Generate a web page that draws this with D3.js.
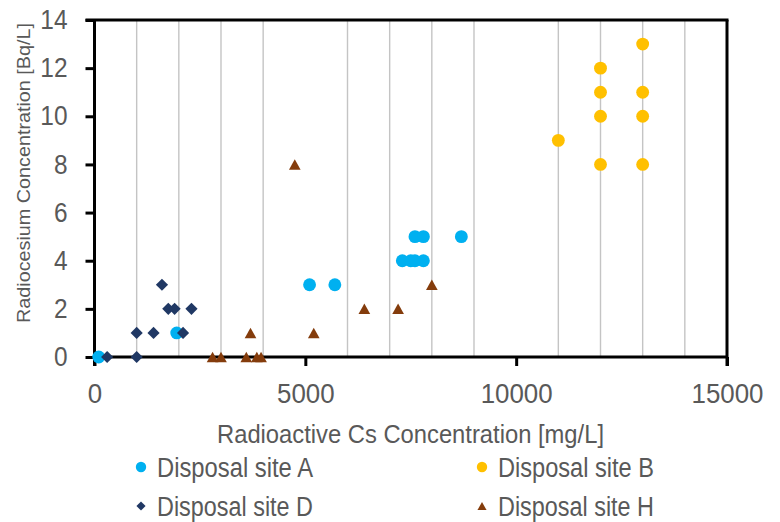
<!DOCTYPE html>
<html>
<head>
<meta charset="utf-8">
<script src="https://cdn.jsdelivr.net/npm/d3@7/dist/d3.min.js"></script>
<style>
  html, body { margin: 0; padding: 0; background: #fff; }
  svg { display: block; }
  text { font-family: "Liberation Sans", Arial, sans-serif; fill: #595959; }
</style>
</head>
<body>
<svg id="chart" width="780" height="522"></svg>
<script>
// Radioactive Cs concentration [mg/L] vs radiocesium concentration [Bq/L]
const siteAx = [100, 1950, 5100, 5700, 7300, 7500, 7600, 7800, 7600, 7800, 8700];
const siteAy = [0, 1, 3, 3, 4, 4, 4, 4, 5, 5, 5];
const siteBx = [11000, 12000, 12000, 12000, 12000, 13000, 13000, 13000, 13000];
const siteBy = [9, 12, 11, 10, 8, 13, 11, 10, 8];
const siteDx = [300, 1000, 1000, 1400, 1600, 1750, 1900, 2100, 2300];
const siteDy = [0, 0, 1, 1, 3, 2, 2, 1, 2];
const siteHx = [2800, 3000, 3600, 3850, 3950, 3700, 4750, 5200, 6400, 7200, 8000];
const siteHy = [0, 0, 0, 0, 0, 1, 8, 1, 2, 2, 3];

const seriesNames = ["Disposal site A", "Disposal site B", "Disposal site D", "Disposal site H"];
const xTicks = [0, 5000, 10000, 15000];
const yTicks = [0, 2, 4, 6, 8, 10, 12, 14];
const xTitle = "Radioactive  Cs Concentration [mg/L]";
const yTitle = "Radiocesium Concentration [Bq/L]";

// Marker shapes centred on their bounding box
const diamond = {
  draw(ctx, size) {
    const r = Math.sqrt(size / 2);
    ctx.moveTo(0, -r); ctx.lineTo(r, 0); ctx.lineTo(0, r); ctx.lineTo(-r, 0); ctx.closePath();
  }
};
const triangle = {
  draw(ctx, size) {
    const w = Math.sqrt(size * 2.2), h = w * 0.9;
    ctx.moveTo(0, -h / 2); ctx.lineTo(w / 2, h / 2); ctx.lineTo(-w / 2, h / 2); ctx.closePath();
  }
};

const series = [
  { name: seriesNames[0], xs: siteAx, ys: siteAy, color: "#00B0F0", type: d3.symbolCircle, size: 130, lsize: 85 },
  { name: seriesNames[1], xs: siteBx, ys: siteBy, color: "#FFC000", type: d3.symbolCircle, size: 130, lsize: 85 },
  { name: seriesNames[2], xs: siteDx, ys: siteDy, color: "#203864", type: diamond, size: 74, lsize: 42 },
  { name: seriesNames[3], xs: siteHx, ys: siteHy, color: "#843C0C", type: triangle, size: 62, lsize: 38 }
];

const svg = d3.select("#chart");
const x = d3.scaleLinear().domain([0, 15000]).range([94.5, 727]);
const y = d3.scaleLinear().domain([0, 14]).range([357, 20]);

// vertical gridlines every 1000, skipping the labelled ticks
const gridVals = d3.range(1000, 15000, 1000).filter(v => v % 5000 !== 0);
svg.append("g")
  .selectAll("line").data(gridVals).join("line")
  .attr("x1", d => x(d)).attr("x2", d => x(d))
  .attr("y1", y(14)).attr("y2", y(0))
  .attr("stroke", "#c4c4c4").attr("stroke-width", 1.4);

// plot frame
svg.append("line").attr("x1", x(0) - 9).attr("x2", x(15000) + 1.5)
  .attr("y1", y(14)).attr("y2", y(14)).attr("stroke", "#000").attr("stroke-width", 3);
svg.append("line").attr("x1", x(15000)).attr("x2", x(15000))
  .attr("y1", y(14)).attr("y2", y(0) + 9).attr("stroke", "#000").attr("stroke-width", 3);

// axes
const xAxis = svg.append("g").attr("transform", `translate(0,${y(0)})`)
  .call(d3.axisBottom(x).tickValues(xTicks).tickFormat(d3.format("d")).tickSize(9).tickSizeOuter(0).tickPadding(18));
const yAxis = svg.append("g").attr("transform", `translate(${x(0)},0)`)
  .call(d3.axisLeft(y).tickValues(yTicks).tickFormat(d3.format("d")).tickSize(9).tickSizeOuter(0).tickPadding(18));
[xAxis, yAxis].forEach(g => {
  g.select(".domain").attr("stroke", "#000").attr("stroke-width", 3);
  g.selectAll(".tick line").attr("stroke", "#000").attr("stroke-width", 3);
  g.selectAll(".tick text").attr("fill", "#595959").style("font-size", "27px")
    .style("font-family", "'Liberation Sans', Arial, sans-serif");
});
// slightly condensed tick numerals
xAxis.selectAll(".tick text").each(function () {
  const t = d3.select(this);
  t.attr("textLength", t.text().length * 14.4).attr("lengthAdjust", "spacingAndGlyphs");
});
yAxis.selectAll(".tick text").each(function () {
  const t = d3.select(this);
  t.attr("textLength", t.text().length * 13.6).attr("lengthAdjust", "spacingAndGlyphs");
});
// extend the axis lines to meet at the corner
xAxis.select(".domain").attr("d", `M${x(0) - 1.5},0H${x(15000)}`);
yAxis.select(".domain").attr("d", `M0,${y(14)}V${y(0) + 9}`);

// points
series.forEach(s => {
  const sym = d3.symbol().type(s.type).size(s.size);
  svg.append("g").selectAll("path").data(s.xs.map((v, i) => [v, s.ys[i]])).join("path")
    .attr("d", sym)
    .attr("transform", d => `translate(${x(d[0])},${y(d[1])})`)
    .attr("fill", s.color);
});

// axis titles
svg.append("text")
  .attr("x", 217).attr("y", 443)
  .attr("textLength", 387).attr("lengthAdjust", "spacingAndGlyphs")
  .style("font-size", "26px")
  .text(xTitle);
svg.append("text")
  .attr("transform", "translate(30,323) rotate(-90)")
  .attr("textLength", 300).attr("lengthAdjust", "spacingAndGlyphs")
  .style("font-size", "19px")
  .text(yTitle);

// legend
const legendPos = [[141, 467], [482, 467], [141, 506], [482, 506]];
series.forEach((s, i) => {
  const [lx, ly] = legendPos[i];
  svg.append("path").attr("d", d3.symbol().type(s.type).size(s.lsize)())
    .attr("transform", `translate(${lx},${ly})`).attr("fill", s.color);
  svg.append("text").attr("x", lx + 16).attr("y", ly + 10)
    .attr("textLength", 156).attr("lengthAdjust", "spacingAndGlyphs")
    .style("font-size", "27px")
    .text(s.name);
});
</script>
</body>
</html>
